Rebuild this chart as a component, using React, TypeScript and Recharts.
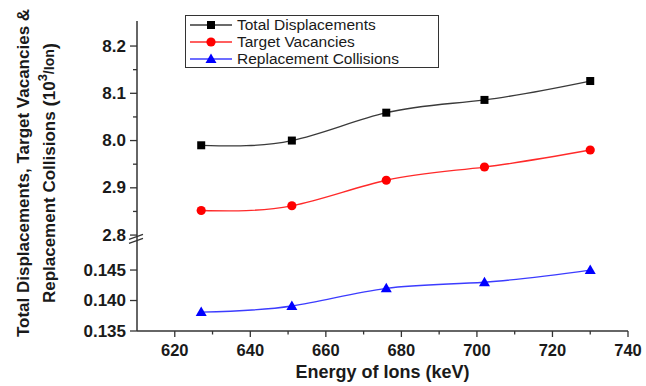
import React from 'react';
import { LineChart, Line, XAxis, YAxis, Legend, ReferenceDot } from 'recharts';

// ─── Data ──────────────────────────────────────────────────────────────────────
const ENERGY = [627, 651, 676, 702, 730];
const TOTAL_DISP = [7.99, 8.0, 8.059, 8.086, 8.126];
const TARGET_VAC = [2.852, 2.862, 2.916, 2.944, 2.98];
const REPL_COLL = [0.1381, 0.1391, 0.142, 0.143, 0.145];

const X_MAJOR = [620, 640, 660, 680, 700, 720, 740];
const X_MINOR = [630, 650, 670, 690, 710, 730];
const Y_MAJOR = [0.135, 0.14, 0.145, 2.8, 2.9, 8.0, 8.1, 8.2];
const Y_MAJOR_LABELS = ['0.135', '0.140', '0.145', '2.8', '2.9', '8.0', '8.1', '8.2'];
const Y_MINOR = [2.85, 2.95, 8.05, 8.15];
const Y_BOTTOM = 0.135;
const Y_TOP = 8.253;
const Y_BREAK = 2.793;

const SERIES = [
  { key: 'total', name: 'Total Displacements', line: '#3a3a3a', mark: '#000000', shape: 'square' },
  { key: 'vac', name: 'Target Vacancies', line: '#ff2a2a', mark: '#ff0000', shape: 'circle' },
  { key: 'rep', name: 'Replacement Collisions', line: '#3c3cff', mark: '#0000ff', shape: 'triangle' },
];

const FONT = '"Liberation Sans", Arial, sans-serif';

// broken axis: 8.x is drawn right above 2.9, the 0.13x block sits below 2.8
const toDisp = (v: number) => (v >= 7 ? v - 5 : v >= 2 ? v : 2.597 + (v - 0.135) * 12.9);

const data = ENERGY.map((e, i) => ({
  energy: e,
  total: toDisp(TOTAL_DISP[i]),
  vac: toDisp(TARGET_VAC[i]),
  rep: toDisp(REPL_COLL[i]),
}));

const yTicks = [...Y_MAJOR, ...Y_MINOR].map(toDisp).sort((a, b) => a - b);
const xTicks = [...X_MAJOR, ...X_MINOR].sort((a, b) => a - b);

// ─── Marker shapes ─────────────────────────────────────────────────────────────
function Marker({ cx, cy, shape, color }: any) {
  if (cx == null || cy == null) return null;
  if (shape === 'square') return <rect x={cx - 4} y={cy - 4} width={8} height={8} fill={color} />;
  if (shape === 'circle') return <circle cx={cx} cy={cy} r={4.6} fill={color} />;
  return <polygon points={`${cx},${cy - 5.5} ${cx - 5.5},${cy + 4} ${cx + 5.5},${cy + 4}`} fill={color} />;
}

// ─── Ticks ─────────────────────────────────────────────────────────────────────
const YTick = ({ x, y, payload }: any) => {
  const i = Y_MAJOR.findIndex(v => Math.abs(toDisp(v) - payload.value) < 1e-6);
  const major = i >= 0;
  return (
    <g>
      <line x1={x - (major ? 7 : 4)} x2={x} y1={y} y2={y} stroke="#333" strokeWidth={1.3} />
      {major && (
        <text x={x - 11} y={y} textAnchor="end" dominantBaseline="central"
          fontFamily={FONT} fontWeight="bold" fontSize={17} fill="#1a1a1a">{Y_MAJOR_LABELS[i]}</text>
      )}
    </g>
  );
};

const XTick = ({ x, y, payload }: any) => {
  const major = X_MAJOR.includes(payload.value);
  return (
    <g>
      <line x1={x} x2={x} y1={y} y2={y + (major ? 6 : 3.5)} stroke="#333" strokeWidth={1.3} />
      {major && (
        <text x={x} y={y + 19} textAnchor="middle" dominantBaseline="central"
          fontFamily={FONT} fontWeight="bold" fontSize={16.5} fill="#1a1a1a">{payload.value}</text>
      )}
    </g>
  );
};

const YLabel = ({ viewBox }: any) => {
  const cy = viewBox.y + viewBox.height / 2 - 3;
  return (
    <g fontFamily={FONT} fontWeight="bold" fontSize={17} fill="#1a1a1a">
      <text transform={`translate(23,${cy}) rotate(-90)`} textAnchor="middle" dominantBaseline="central">
        Total Displacements, Target Vacancies &amp;
      </text>
      <text transform={`translate(49,${cy}) rotate(-90)`} textAnchor="middle" dominantBaseline="central">
        Replacement Collisions <tspan fontSize={19}>(</tspan>10<tspan fontSize={13} dy={-7}>3</tspan><tspan fontSize={14} dy={7}>/Ion</tspan><tspan fontSize={19}>)</tspan>
      </text>
    </g>
  );
};

const XLabel = ({ viewBox }: any) => (
  <text x={viewBox.x + viewBox.width / 2} y={372} textAnchor="middle" dominantBaseline="central"
    fontFamily={FONT} fontWeight="bold" fontSize={18} fill="#1a1a1a">Energy of Ions (keV)</text>
);

const BreakMark = ({ cx, cy }: any) => (
  <g stroke="#333" strokeWidth={1.3}>
    <line x1={cx - 8} y1={cy + 1} x2={cx + 6} y2={cy - 4} />
    <line x1={cx - 8} y1={cy + 5} x2={cx + 6} y2={cy} />
  </g>
);

const LegendBox = () => (
  <div style={{
    border: '1.5px solid #333', width: 254, height: 53, boxSizing: 'border-box',
    fontFamily: FONT, fontSize: 15.5, color: '#1a1a1a', padding: '0 0 0 3px', background: '#fff',
  }}>
    {SERIES.map(s => (
      <div key={s.key} style={{ display: 'flex', alignItems: 'center', height: 17 }}>
        <svg width={44} height={14} style={{ flexShrink: 0 }}>
          <line x1={1} x2={43} y1={7} y2={7} stroke={s.line} strokeWidth={1.3} />
          <Marker cx={22} cy={7} shape={s.shape} color={s.mark} />
        </svg>
        <span style={{ marginLeft: 4, lineHeight: '17px' }}>{s.name}</span>
      </div>
    ))}
  </div>
);

export default function App() {
  return (
    <div style={{ position: 'absolute', left: 0, top: 0, width: 646, height: 386, background: '#fff' }}>
      <LineChart width={646} height={386} data={data} margin={{ top: 21, right: 18, bottom: 0, left: 0 }}>
        <XAxis type="number" dataKey="energy" domain={[610, 740]} ticks={xTicks} interval={0}
          tickSize={0} tickMargin={0} tick={<XTick />} height={55}
          axisLine={{ stroke: '#333', strokeWidth: 1.5 }} label={<XLabel />} />
        <YAxis type="number" domain={[toDisp(Y_BOTTOM), toDisp(Y_TOP)]} ticks={yTicks} interval={0}
          allowDataOverflow tickSize={0} tickMargin={0} tick={<YTick />} width={137}
          axisLine={{ stroke: '#333', strokeWidth: 1.5 }} label={<YLabel />} />
        <Legend layout="vertical" align="center" verticalAlign="middle"
          wrapperStyle={{ left: 185, top: 15, width: 254, height: 53 }} content={<LegendBox />} />
        <ReferenceDot x={610} y={Y_BREAK} ifOverflow="visible" shape={<BreakMark />} />
        {SERIES.map(s => (
          <Line key={s.key} type="natural" dataKey={s.key} name={s.name} stroke={s.line} strokeWidth={1.3}
            isAnimationActive={false} activeDot={false}
            dot={(p: any) => <Marker key={p.index} cx={p.cx} cy={p.cy} shape={s.shape} color={s.mark} />} />
        ))}
      </LineChart>
    </div>
  );
}
